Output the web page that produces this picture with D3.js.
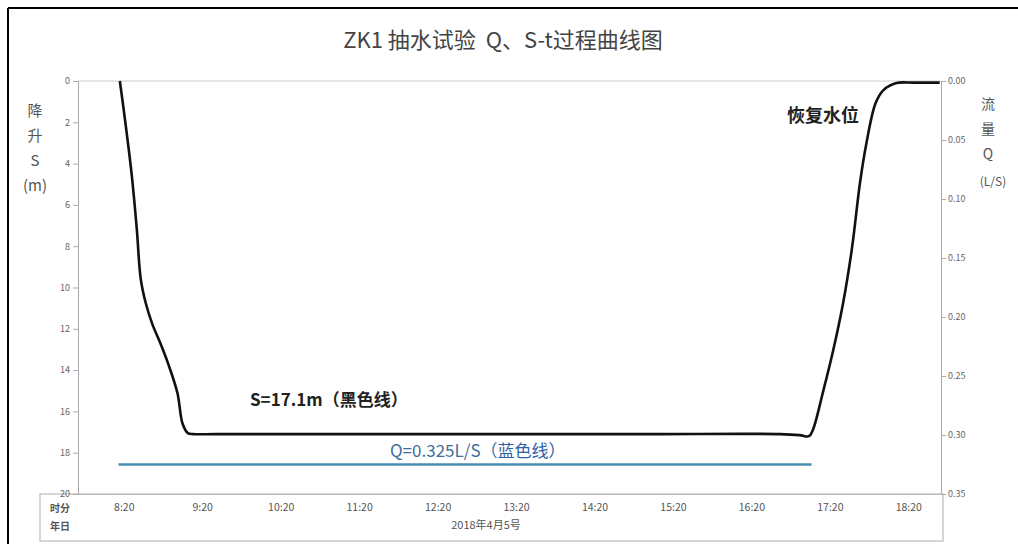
<!DOCTYPE html>
<html><head><meta charset="utf-8">
<script src="https://cdn.jsdelivr.net/npm/d3@7"></script>
<style>body{margin:0;background:#fff;} svg{display:block;} text{font-family:"Noto Sans CJK SC","Noto Sans",sans-serif;}</style>
</head><body><svg id="c" width="1018" height="544"></svg>
<script>
// ---- data ----
const sTimes = ["8:17","8:21","8:26","8:30","8:33","8:37","8:42","8:48","8:54","9:01","9:05","9:09","9:13","9:30","11:00","13:00","15:00","16:42","16:57","17:04","17:07","17:15","17:22","17:30","17:37","17:43","17:48","17:55","18:01","18:11","18:24","18:44"];
const sValues = [0,1.9,4.5,7.2,9.6,10.8,11.8,12.7,13.7,15.1,16.6,17.05,17.1,17.1,17.1,17.1,17.1,17.1,17.15,17.2,16.9,15.0,13.2,10.8,8.06,4.95,3.0,1.07,0.44,0.1,0.08,0.08];
const qTimes = ["8:16","17:06"];
const qValues = [0.325,0.325];
const xTickLabels = ["8:20","9:20","10:20","11:20","12:20","13:20","14:20","15:20","16:20","17:20","18:20"];
const sTicks = [0,2,4,6,8,10,12,14,16,18,20];
const qTicks = [0,0.05,0.10,0.15,0.20,0.25,0.30,0.35];
const xDomain = ["7:45","18:45"];
const titleText = "ZK1 抽水试验  Q、S-t过程曲线图";
const dateLabel = "2018年4月5号";

const toMin = s => { const [h,m] = s.split(":").map(Number); return h*60+m; };

const svg = d3.select("#c");
const L=78, R=941, T=81, B=494;

const x = d3.scaleLinear().domain(xDomain.map(toMin)).range([L,R]);
const yS = d3.scaleLinear().domain([0,20]).range([T,B]);
const yQ = d3.scaleLinear().domain([0,0.35]).range([T,B]);

// outer frame
svg.append("line").attr("x1",8).attr("x2",8).attr("y1",8).attr("y2",544).attr("stroke","#000").attr("stroke-width",2);
svg.append("line").attr("x1",8).attr("x2",1018).attr("y1",8).attr("y2",8).attr("stroke","#000").attr("stroke-width",2);

// title
svg.append("text").attr("x",503).attr("y",48).attr("text-anchor","middle").attr("font-size",22).attr("fill","#444")
  .style("white-space","pre").text(titleText);

// plot top border
svg.append("line").attr("x1",L).attr("x2",R).attr("y1",T).attr("y2",T).attr("stroke","#ccc").attr("stroke-width",1);

// table box under x axis
svg.append("rect").attr("x",40).attr("y",B).attr("width",R-40+2).attr("height",47).attr("fill","none").attr("stroke","#bbb").attr("stroke-width",1.2);

// left axis
const gl = svg.append("g").attr("transform",`translate(${L},0)`).call(d3.axisLeft(yS).tickValues(sTicks).tickSize(5).tickFormat(d3.format("d")));
gl.select(".domain").attr("stroke","#aaa");
gl.selectAll(".tick line").attr("stroke","#aaa");
gl.selectAll(".tick text").attr("fill","#666").attr("font-size",9).attr("x",-8);

// right axis
const gr = svg.append("g").attr("transform",`translate(${R},0)`).call(d3.axisRight(yQ).tickValues(qTicks).tickSize(5).tickFormat(d3.format(".2f")));
gr.select(".domain").attr("stroke","#aaa");
gr.selectAll(".tick line").attr("stroke","#aaa");
gr.selectAll(".tick text").attr("fill","#666").attr("font-size",9).attr("x",7);

// x axis labels
const gx = svg.append("g").attr("transform",`translate(0,${B})`).call(d3.axisBottom(x).tickValues(xTickLabels.map(toMin)).tickSize(0).tickFormat((d,i)=>xTickLabels[i]));
gx.select(".domain").attr("stroke","#bbb");
gx.selectAll(".tick text").attr("fill","#555").attr("font-size",10.5).attr("dy","0.75em").attr("y",9);

svg.append("text").attr("x",486).attr("y",529).attr("text-anchor","middle").attr("font-size",11).attr("fill","#555").text(dateLabel);
svg.append("text").attr("x",60).attr("y",512).attr("text-anchor","middle").attr("font-size",10).attr("font-weight","bold").attr("fill","#555").text("时分");
svg.append("text").attr("x",60).attr("y",530).attr("text-anchor","middle").attr("font-size",10).attr("font-weight","bold").attr("fill","#555").text("年日");

// axis titles
const lt = ["降","升","S","(m)"], ly=[116,141,166,191];
lt.forEach((t,i)=>svg.append("text").attr("x",35).attr("y",ly[i]).attr("text-anchor","middle").attr("font-size",15).attr("fill","#555").text(t));
const rt = ["流","量","Q","(L/S)"], ry=[109,134,159,186];
rt.forEach((t,i)=>svg.append("text").attr("x",i<3?988:993).attr("y",ry[i]).attr("text-anchor","middle").attr("font-size",i<3?14:12).attr("fill","#555").text(t));

// Q line
const qData = qTimes.map((t,i)=>({t:toMin(t),v:qValues[i]}));
svg.append("path").datum(qData).attr("fill","none").attr("stroke","#4a8db3").attr("stroke-width",2.5)
  .attr("d",d3.line().x(d=>x(d.t)).y(d=>yQ(d.v)));

// S line
const sData = sTimes.map((t,i)=>({t:toMin(t),v:sValues[i]}));
svg.append("path").datum(sData).attr("fill","none").attr("stroke","#111").attr("stroke-width",2.6)
  .attr("d",d3.line().curve(d3.curveCatmullRom.alpha(0.5)).x(d=>x(d.t)).y(d=>yS(d.v)));

// annotations
svg.append("text").attr("x",823).attr("y",122).attr("text-anchor","middle").attr("font-size",18).attr("font-weight","bold").attr("fill","#222").text("恢复水位");
svg.append("text").attr("x",250).attr("y",406).attr("font-size",17).attr("font-weight","bold").attr("fill","#222").text("S=17.1m（黑色线）");
const qt = svg.append("text").attr("x",390).attr("y",457).attr("font-size",17).attr("fill","#3f6f99");
qt.append("tspan").text("Q=0.325L/S（");
qt.append("tspan").attr("fill","#2f5fa8").text("蓝色线）");
</script></body></html>
